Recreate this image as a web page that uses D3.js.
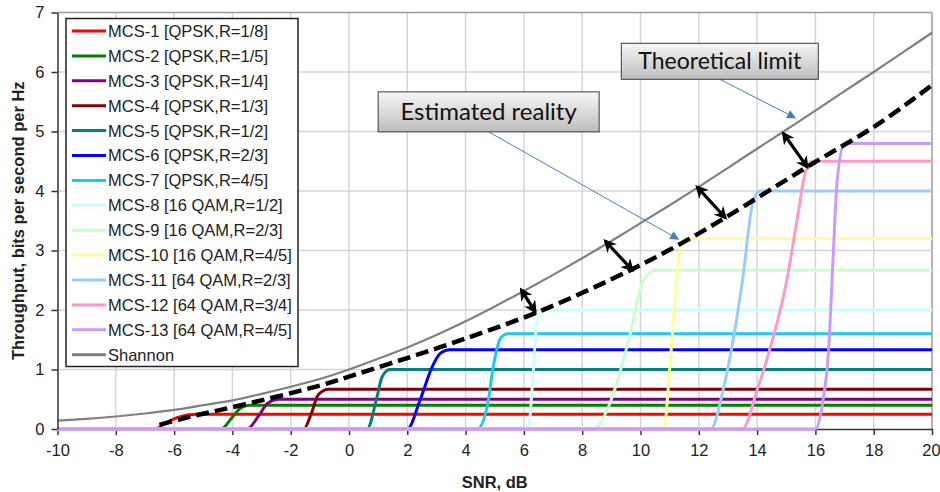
<!DOCTYPE html>
<html>
<head>
<meta charset="utf-8">
<script src="https://cdn.jsdelivr.net/npm/d3@7"></script>
<style>
  html, body { margin: 0; padding: 0; background: #fff; }
  svg { display: block; }
</style>
</head>
<body>
<svg id="chart" width="940" height="492"></svg>
<script>
// ---------------- DATA ----------------
const xTicks = [-10, -8, -6, -4, -2, 0, 2, 4, 6, 8, 10, 12, 14, 16, 18, 20];
const yTicks = [0, 1, 2, 3, 4, 5, 6, 7];

const seriesNames = [
  "MCS-1 [QPSK,R=1/8]", "MCS-2 [QPSK,R=1/5]", "MCS-3 [QPSK,R=1/4]",
  "MCS-4 [QPSK,R=1/3]", "MCS-5 [QPSK,R=1/2]", "MCS-6 [QPSK,R=2/3]",
  "MCS-7 [QPSK,R=4/5]", "MCS-8 [16 QAM,R=1/2]", "MCS-9 [16 QAM,R=2/3]",
  "MCS-10 [16 QAM,R=4/5]", "MCS-11 [64 QAM,R=2/3]", "MCS-12 [64 QAM,R=3/4]",
  "MCS-13 [64 QAM,R=4/5]", "Shannon"
];
const seriesColors = [
  "#ff0000", "#008000", "#800080", "#800000", "#008080", "#0000ff",
  "#1ec8f0", "#ccffff", "#ccffcc", "#ffff99", "#99ccff", "#ff99cc",
  "#cc99ff", "#808080"
];

// Rise portion of each MCS curve [SNR dB, throughput]
const mcs1  = [[-6.65, 0], [-6.3, 0.1], [-5.9, 0.19], [-5.5, 0.24], [-5.2, 0.25]];
const mcs2  = [[-4.4, 0], [-4.0, 0.2], [-3.7, 0.36], [-3.4, 0.4]];
const mcs3  = [[-3.5, 0], [-3.1, 0.22], [-2.8, 0.43], [-2.4, 0.5]];
const mcs4  = [[-1.55, 0], [-1.3, 0.25], [-1.05, 0.58], [-0.7, 0.667]];
const mcs5  = [[0.62, 0], [0.96, 0.54], [1.13, 0.87], [1.4, 1.0]];
const mcs6  = [[2.0, 0], [2.44, 0.49], [2.85, 1.04], [3.13, 1.27], [3.45, 1.333]];
const mcs7  = [[4.4, 0], [4.75, 0.4], [4.95, 1.05], [5.2, 1.53], [5.45, 1.6]];
const mcs8  = [[6.15, 0], [6.3, 0.8], [6.45, 1.8], [6.7, 2.0]];
const mcs9  = [[8.4, 0], [8.9, 0.37], [9.6, 1.5], [10.1, 2.5], [10.5, 2.667]];
const mcs10 = [[10.8, 0], [11.0, 1.0], [11.25, 2.6], [11.5, 3.2]];
const mcs11 = [[12.4, 0], [12.9, 0.8], [13.5, 2.5], [13.85, 3.8], [14.1, 4.0]];
const mcs12 = [[13.5, 0], [14.0, 0.65], [14.5, 1.45], [15.0, 2.45], [15.4, 3.6], [15.65, 4.3], [15.9, 4.5]];
const mcs13 = [[16.0, 0], [16.25, 0.45], [16.45, 1.3], [16.6, 2.8], [16.75, 4.2], [17.0, 4.8]];
const mcsRises = [mcs1, mcs2, mcs3, mcs4, mcs5, mcs6, mcs7, mcs8, mcs9, mcs10, mcs11, mcs12, mcs13];

// Shannon limit read at each dB
const shannonSnr = [-10,-9,-8,-7,-6,-5,-4,-3,-2,-1,0,1,2,3,4,5,6,7,8,9,10,11,12,13,14,15,16,17,18,19,20];
const shannonVal = [0.14,0.17,0.21,0.26,0.32,0.40,0.48,0.59,0.71,0.84,1.00,1.18,1.37,1.58,1.81,2.06,2.32,2.59,2.87,3.16,3.46,3.76,4.07,4.39,4.71,5.03,5.35,5.68,6.00,6.33,6.66];

// Estimated reality (dashed)
const estSnr = [-6.5, -5.5, -3.7, -1, 0, 1.4, 3.1, 6.5, 9.65, 11.4, 12.9, 15.7, 18.2, 20];
const estVal = [0.07, 0.2, 0.40, 0.73, 0.88, 1.10, 1.37, 1.97, 2.67, 3.12, 3.55, 4.40, 5.14, 5.78];

// Double arrows between the curves: [snr, value] top -> bottom
const gapTop = [[5.91, 2.34], [8.79, 3.16], [11.94, 4.07], [14.9, 4.97]];
const gapBot = [[6.39, 1.97], [9.72, 2.67], [12.91, 3.55], [15.72, 4.40]];

// Callouts
const calloutText = ["Theoretical limit", "Estimated reality"];
const calloutCenter = [[12.72, 6.18], [4.79, 5.33]];
const calloutTip = [[15.31, 5.23], [11.30, 3.19]];

// ---------------- CHART ----------------
const W = 940, H = 492;
const m = { left: 57.5, right: 8, top: 12.5, bottom: 63 };
const svg = d3.select("#chart");
const x = d3.scaleLinear().domain([-10, 20]).range([m.left, W - m.right]);
const y = d3.scaleLinear().domain([0, 7]).range([H - m.bottom, m.top]);
const FONT = "Liberation Sans, Arimo, Arial, sans-serif";
const fmt = d => String(d);

const defs = svg.append("defs");
const grad = defs.append("linearGradient").attr("id", "boxgrad")
  .attr("x1", 0).attr("y1", 0).attr("x2", 0).attr("y2", 1);
grad.append("stop").attr("offset", "0%").attr("stop-color", "#f7f7f7");
grad.append("stop").attr("offset", "100%").attr("stop-color", "#bdbdbd");

defs.append("marker").attr("id", "blackhead")
  .attr("viewBox", "0 0 10 10").attr("refX", 8).attr("refY", 5)
  .attr("markerUnits", "userSpaceOnUse")
  .attr("markerWidth", 13).attr("markerHeight", 13)
  .attr("orient", "auto-start-reverse")
  .append("path").attr("d", "M0,0 L10,5 L0,10 L3,5 Z").attr("fill", "#000");

defs.append("marker").attr("id", "bluehead")
  .attr("viewBox", "0 0 10 10").attr("refX", 9).attr("refY", 5)
  .attr("markerUnits", "userSpaceOnUse")
  .attr("markerWidth", 11).attr("markerHeight", 9)
  .attr("orient", "auto")
  .append("path").attr("d", "M0,0 L10,5 L0,10 Z").attr("fill", "#4a7ebb");

// grid
const grid = svg.append("g");
grid.selectAll("line.v").data(xTicks.filter(d => d > -10)).join("line")
  .attr("x1", d => x(d)).attr("x2", d => x(d))
  .attr("y1", y(0)).attr("y2", y(7))
  .attr("stroke", d => d === 20 ? "#9a9a9a" : "#d4d4d4").attr("stroke-width", 1.5);
grid.selectAll("line.h").data(yTicks.filter(d => d > 0)).join("line")
  .attr("y1", d => y(d)).attr("y2", d => y(d))
  .attr("x1", x(-10)).attr("x2", x(20))
  .attr("stroke", d => d === 7 ? "#9a9a9a" : "#d4d4d4").attr("stroke-width", 1.5);

// x axis
const xAxis = svg.append("g").attr("transform", `translate(0,${y(0)})`)
  .call(d3.axisBottom(x).tickValues(xTicks).tickFormat(fmt).tickSize(6).tickPadding(9).tickSizeOuter(0));
xAxis.attr("font-family", FONT);
xAxis.select(".domain").attr("stroke", "#333").attr("stroke-width", 1.5);
xAxis.selectAll(".tick line").attr("stroke", "#333").attr("stroke-width", 1.5);
xAxis.selectAll("text").attr("font-family", FONT).attr("font-size", 16.5).attr("fill", "#222")
  .attr("dx", d => d === 20 ? -1 : 0);

// MCS curves
const line = d3.line().x(d => x(d[0])).y(d => y(d[1])).curve(d3.curveMonotoneX);
const curves = svg.append("g");
mcsRises.forEach((rise, i) => {
  const peak = rise[rise.length - 1][1];
  const pts = [[-10, 0]].concat(rise, [[20, peak]]);
  curves.append("path").attr("d", line(pts))
    .attr("fill", "none").attr("stroke", seriesColors[i]).attr("stroke-width", 3);
});

// Shannon
svg.append("path")
  .attr("d", line(shannonSnr.map((s, i) => [s, shannonVal[i]])))
  .attr("fill", "none").attr("stroke", "#808080").attr("stroke-width", 2.2);

// y axis
const yAxis = svg.append("g").attr("transform", `translate(${x(-10)},0)`)
  .call(d3.axisLeft(y).tickValues(yTicks).tickFormat(fmt).tickSize(6).tickPadding(7).tickSizeOuter(0));
yAxis.attr("font-family", FONT);
yAxis.select(".domain").attr("stroke", "#333").attr("stroke-width", 1.5);
yAxis.selectAll(".tick line").attr("stroke", "#333").attr("stroke-width", 1.5);
yAxis.selectAll("text").attr("font-family", FONT).attr("font-size", 16.5).attr("fill", "#222");

// Estimated reality dashed
svg.append("path")
  .attr("d", d3.line().x(d => x(d[0])).y(d => y(d[1])).curve(d3.curveCatmullRom)(estSnr.map((s, i) => [s, estVal[i]])))
  .attr("fill", "none").attr("stroke", "#000").attr("stroke-width", 4.5)
  .attr("stroke-dasharray", "13,6");

// double arrows
svg.append("g").selectAll("line").data(gapTop).join("line")
  .attr("x1", d => x(d[0])).attr("y1", d => y(d[1]))
  .attr("x2", (d, i) => x(gapBot[i][0])).attr("y2", (d, i) => y(gapBot[i][1]))
  .attr("stroke", "#000").attr("stroke-width", 3.2)
  .attr("marker-start", "url(#blackhead)").attr("marker-end", "url(#blackhead)");

// callouts
const boxW = [197, 221], boxH = [36, 40], boxFont = [23, 24];
calloutText.forEach((t, i) => {
  const cx = x(calloutCenter[i][0]), cy = y(calloutCenter[i][1]);
  svg.append("line")
    .attr("x1", cx).attr("y1", cy + boxH[i] / 2)
    .attr("x2", x(calloutTip[i][0])).attr("y2", y(calloutTip[i][1]))
    .attr("stroke", "#4a7ebb").attr("stroke-width", 1)
    .attr("marker-end", "url(#bluehead)");
  svg.append("rect")
    .attr("x", cx - boxW[i] / 2).attr("y", cy - boxH[i] / 2)
    .attr("width", boxW[i]).attr("height", boxH[i])
    .attr("fill", "url(#boxgrad)").attr("stroke", "#3a3a3a").attr("stroke-width", 1);
  svg.append("text").attr("x", cx).attr("y", cy).attr("dy", "0.35em")
    .attr("text-anchor", "middle").attr("font-family", "Lato, 'Open Sans', sans-serif")
    .attr("font-size", boxFont[i]).attr("fill", "#111").text(t);
});

// legend
const lg = svg.append("g");
lg.append("rect").attr("x", 66).attr("y", 18.5).attr("width", 232).attr("height", 348)
  .attr("fill", "#fff").attr("stroke", "#222").attr("stroke-width", 1.5);
const items = lg.selectAll("g.item").data(seriesNames).join("g")
  .attr("transform", (d, i) => `translate(0,${31 + i * 24.9})`);
items.append("line").attr("x1", 72).attr("x2", 106).attr("y1", 0).attr("y2", 0)
  .attr("stroke", (d, i) => seriesColors[i]).attr("stroke-width", 3);
items.append("text").attr("x", 108).attr("y", 0).attr("dy", "0.36em")
  .attr("font-family", FONT).attr("font-size", 16.5).attr("fill", "#222").text(d => d);

// axis titles
svg.append("text").attr("x", (x(-10) + x(20)) / 2).attr("y", 488)
  .attr("text-anchor", "middle").attr("font-family", FONT).attr("font-weight", "bold")
  .attr("font-size", 16.5).attr("fill", "#222").text("SNR, dB");
svg.append("text")
  .attr("transform", `translate(24,${(y(0) + y(7)) / 2}) rotate(-90)`)
  .attr("text-anchor", "middle").attr("font-family", FONT).attr("font-weight", "bold")
  .attr("font-size", 16.5).attr("fill", "#222").text("Throughput, bits per second per Hz");
</script>
</body>
</html>
